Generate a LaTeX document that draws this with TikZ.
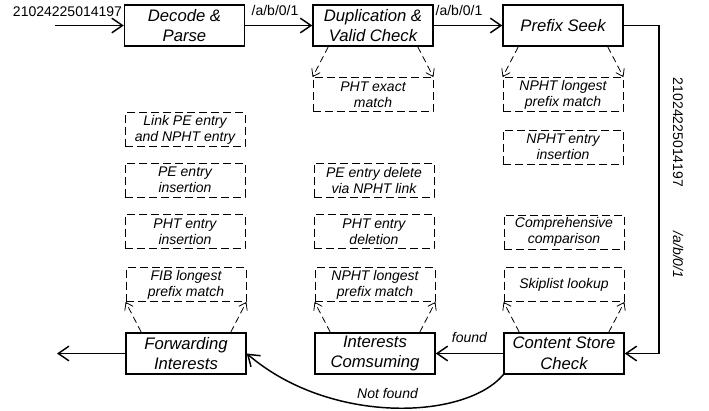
\documentclass[tikz,border=0pt]{standalone}
\usepackage{fontspec}
\setmainfont{Liberation Sans}
\usetikzlibrary{arrows.meta}

\begin{document}
\begin{tikzpicture}[x=0.75pt,y=0.75pt,yscale=-1,xscale=1,
  stage/.style={draw,line width=1.1pt,minimum width=90pt,minimum height=30.75pt,inner sep=0pt,align=center,font=\fontsize{12.5}{15.5}\selectfont\itshape},
  task/.style={draw,line width=0.6pt,dash pattern=on 6pt off 3pt,minimum width=90pt,minimum height=25.5pt,inner sep=0pt,align=center,font=\fontsize{10.5}{12}\selectfont\itshape},
  flow/.style={line width=1.1pt,-{Straight Barb[length=8pt,width=11pt]}},
  probe/.style={line width=0.6pt,dash pattern=on 5pt off 3pt,-{Straight Barb[length=5pt,width=7pt]}},
  lbl/.style={inner sep=0pt,font=\fontsize{10.5}{12}\selectfont}]
\useasboundingbox (0,0) rectangle (709,410);

%Shape: Rectangle (pipeline stages)
\node[stage] (dec) at (184.5,25.5) {Decode \&\\Parse};
\node[stage] (dup) at (373,25.5) {Duplication \&\\Valid Check};
\node[stage] (seek) at (563,25.5) {Prefix Seek};
\node[stage] (fwd) at (186,353.5) {Forwarding\\Interests};
\node[stage] (eat) at (375,353.5) {Interests\\Comsuming};
\node[stage] (cs) at (564,353.5) {Content Store\\Check};

%Shape: Rectangle (dashed sub-tasks, left column)
\node[task] (link) at (185,129.5) {Link PE entry\\and NPHT entry};
\node[task] (peins) at (185,180) {PE entry\\insertion};
\node[task] (phtins) at (185,231.5) {PHT entry\\insertion};
\node[task] (fib) at (186,284.5) {FIB longest\\prefix match};
%Shape: Rectangle (dashed sub-tasks, middle column)
\node[task] (exact) at (373,94.5) {PHT exact\\match};
\node[task] (pedel) at (374,180) {PE entry delete\\via NPHT link};
\node[task] (phtdel) at (374,231.5) {PHT entry\\deletion};
\node[task] (nlpm) at (375,284.5) {NPHT longest\\prefix match};
%Shape: Rectangle (dashed sub-tasks, right column)
\node[task] (nlpmb) at (563,94.5) {NPHT longest\\prefix match};
\node[task] (nins) at (563,147) {NPHT entry\\insertion};
\node[task] (cmp) at (564,232) {Comprehensive\\comparison};
\node[task] (skip) at (564,284.5) {Skiplist lookup};

%Dashed arrows into the sub-tasks
\draw[probe] ([xshift=12pt]dup.south west) -- (exact.north west);
\draw[probe] ([xshift=-12pt]dup.south east) -- (exact.north east);
\draw[probe] ([xshift=12pt]seek.south west) -- (nlpmb.north west);
\draw[probe] ([xshift=-12pt]seek.south east) -- (nlpmb.north east);
\draw[probe] ([xshift=12pt]fwd.north west) -- (fib.south west);
\draw[probe] ([xshift=-12pt]fwd.north east) -- (fib.south east);
\draw[probe] ([xshift=12pt]eat.north west) -- (nlpm.south west);
\draw[probe] ([xshift=-12pt]eat.north east) -- (nlpm.south east);
\draw[probe] ([xshift=12pt]cs.north west) -- (skip.south west);
\draw[probe] ([xshift=-12pt]cs.north east) -- (skip.south east);

% Text Node
\node[lbl,anchor=base] (inlbl) at (67.5,17) {21024225014197};
\node[lbl,anchor=base] (namea) at (275,16) {/a/b/0/1};
\node[lbl,anchor=base] (nameb) at (459,16) {/a/b/0/1};
\node[lbl,rotate=-90] (vlbl) at (678,132.5) {21024225014197};
\node[lbl,rotate=-90] (vname) at (678,255) {\itshape /a/b/0/1};
\node[lbl,anchor=base] (hit) at (469.5,342) {\itshape found};
\node[lbl,anchor=base] (miss) at (387.5,398) {\itshape Not found};

%Straight Lines
\coordinate (src) at (55,25.5);
\coordinate (turn) at (659,25.5);
\coordinate (sink) at (57,353.5);
\draw[flow] (src) -- (dec);
\draw[flow] (dec) -- (dup);
\draw[flow] (dup) -- (seek);
\draw[flow] (seek) -- (turn) |- (cs.east);
\draw[flow] (cs) -- (eat);
\draw[flow] (fwd) -- (sink);
%Curve Lines
\draw[flow] (cs.south west) .. controls (465,420) and (330,425) .. (fwd.east);

\end{tikzpicture}
\end{document}
